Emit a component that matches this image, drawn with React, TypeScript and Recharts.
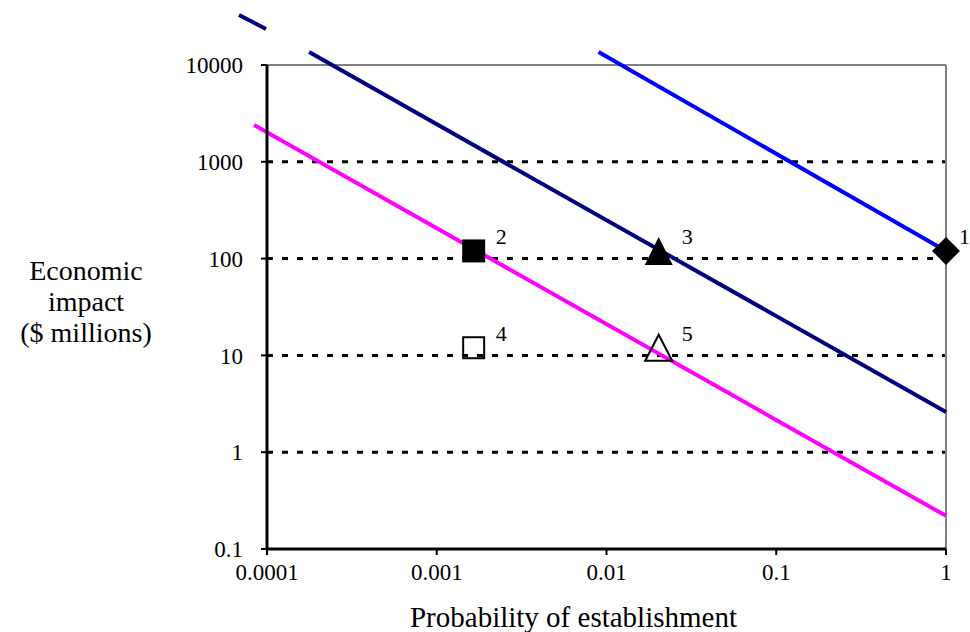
import React from 'react';
import { ScatterChart, Scatter, XAxis, YAxis, CartesianGrid, ReferenceLine } from 'recharts';

// pest points
const pestIds = ['1', '2', '3', '4', '5'];
const probability = [1, 0.00165, 0.0203, 0.00165, 0.0203];
const impact = [120, 120, 120, 12, 12];

// iso-risk lines (end points)
const navyProbA = [0.0000684, 0.0000986];
const navyImpactA = [32900, 23600];
const navyProbB = [0.000177, 1];
const navyImpactB = [13600, 2.6];
const magentaProb = [0.0000838, 1];
const magentaImpact = [2400, 0.22];
const blueProb = [0.00898, 1];
const blueImpact = [13600, 120];

const xTicks = [0.0001, 0.001, 0.01, 0.1, 1];
const yTicks = [0.1, 1, 10, 100, 1000, 10000];
const gridValues = [1, 10, 100, 1000];

const serif = '"Liberation Serif", "Times New Roman", serif';
const tickStyle = { fontFamily: serif, fontSize: 23, fill: '#000' };
const titleStyle = { fontFamily: serif, fontSize: 29, fill: '#000' };
const yTitleStyle = { fontFamily: serif, fontSize: 28, fill: '#000' };

const markerStyle: Record<string, { kind: string; labelDx: number }> = {
  '1': { kind: 'diamond', labelDx: 13 },
  '2': { kind: 'square', labelDx: 22 },
  '3': { kind: 'triangle', labelDx: 23 },
  '4': { kind: 'squareOpen', labelDx: 22 },
  '5': { kind: 'triangleOpen', labelDx: 23 },
};

const pests = pestIds.map((id, i) => ({ id, probability: probability[i], impact: impact[i] }));

const seg = (xs: number[], ys: number[]) => [
  { x: xs[0], y: ys[0] },
  { x: xs[1], y: ys[1] },
];

const Marker = (props: any) => {
  const { cx, cy, payload } = props;
  if (cx == null || cy == null) return null;
  const st = markerStyle[payload.id];
  let mark: React.ReactNode = null;
  if (st.kind === 'diamond') {
    mark = <path d={`M${cx},${cy - 14}L${cx + 14},${cy}L${cx},${cy + 14}L${cx - 14},${cy}Z`} fill="#000" />;
  } else if (st.kind === 'square') {
    mark = <rect x={cx - 11.5} y={cy - 11.5} width={23} height={23} fill="#000" />;
  } else if (st.kind === 'squareOpen') {
    mark = <rect x={cx - 10.5} y={cy - 10.5} width={21} height={21} fill="none" stroke="#000" strokeWidth={2} />;
  } else if (st.kind === 'triangle') {
    mark = <path d={`M${cx},${cy - 14}L${cx + 14},${cy + 14}L${cx - 14},${cy + 14}Z`} fill="#000" />;
  } else {
    mark = (
      <path
        d={`M${cx},${cy - 13}L${cx + 13.5},${cy + 13}L${cx - 13.5},${cy + 13}Z`}
        fill="none"
        stroke="#000"
        strokeWidth={2}
      />
    );
  }
  return (
    <g>
      {mark}
      <text x={cx + st.labelDx} y={cy - 7} style={{ fontFamily: serif, fontSize: 22, fill: '#000' }}>
        {payload.id}
      </text>
    </g>
  );
};

const YTitle = () => (
  <g>
    <text x={86} y={280} textAnchor="middle" style={yTitleStyle}>Economic</text>
    <text x={86} y={311} textAnchor="middle" style={yTitleStyle}>impact</text>
    <text x={86} y={342} textAnchor="middle" style={yTitleStyle}>($ millions)</text>
  </g>
);

export default function App() {
  return (
    <div style={{ position: 'absolute', left: 0, top: 0, width: 970, height: 632, background: '#fff' }}>
      <ScatterChart width={970} height={632} margin={{ top: 65, right: 24, left: 207, bottom: 0 }}>
        <CartesianGrid
          vertical={false}
          horizontalValues={gridValues}
          stroke="#000"
          strokeWidth={3}
          strokeDasharray="6 9"
        />
        <XAxis
          type="number"
          dataKey="probability"
          scale="log"
          domain={[0.0001, 1]}
          ticks={xTicks}
          tickFormatter={(v: number) => String(v)}
          height={83}
          tickSize={6}
          tickMargin={9}
          axisLine={{ stroke: '#000', strokeWidth: 3 }}
          tickLine={{ stroke: '#000', strokeWidth: 2 }}
          tick={{ style: tickStyle }}
          label={{
            value: 'Probability of establishment',
            position: 'insideBottom',
            offset: 5,
            dx: -33,
            style: titleStyle,
          }}
        />
        <YAxis
          type="number"
          dataKey="impact"
          scale="log"
          domain={[0.1, 10000]}
          ticks={yTicks}
          tickFormatter={(v: number) => String(v)}
          width={60}
          tickSize={6}
          tickMargin={18}
          axisLine={{ stroke: '#000', strokeWidth: 3 }}
          tickLine={{ stroke: '#000', strokeWidth: 2 }}
          tick={{ style: tickStyle }}
          label={{ content: () => <YTitle /> }}
        />
        <ReferenceLine y={10000} stroke="#808080" strokeWidth={2} />
        <ReferenceLine x={1} stroke="#808080" strokeWidth={2} />
        <ReferenceLine segment={seg(magentaProb, magentaImpact)} stroke="#ff00ff" strokeWidth={4} ifOverflow="visible" />
        <ReferenceLine segment={seg(navyProbA, navyImpactA)} stroke="#000080" strokeWidth={4} ifOverflow="visible" />
        <ReferenceLine segment={seg(navyProbB, navyImpactB)} stroke="#000080" strokeWidth={4} ifOverflow="visible" />
        <ReferenceLine segment={seg(blueProb, blueImpact)} stroke="#0000ff" strokeWidth={4} ifOverflow="visible" />
        <Scatter data={pests} shape={Marker} isAnimationActive={false} />
      </ScatterChart>
    </div>
  );
}
